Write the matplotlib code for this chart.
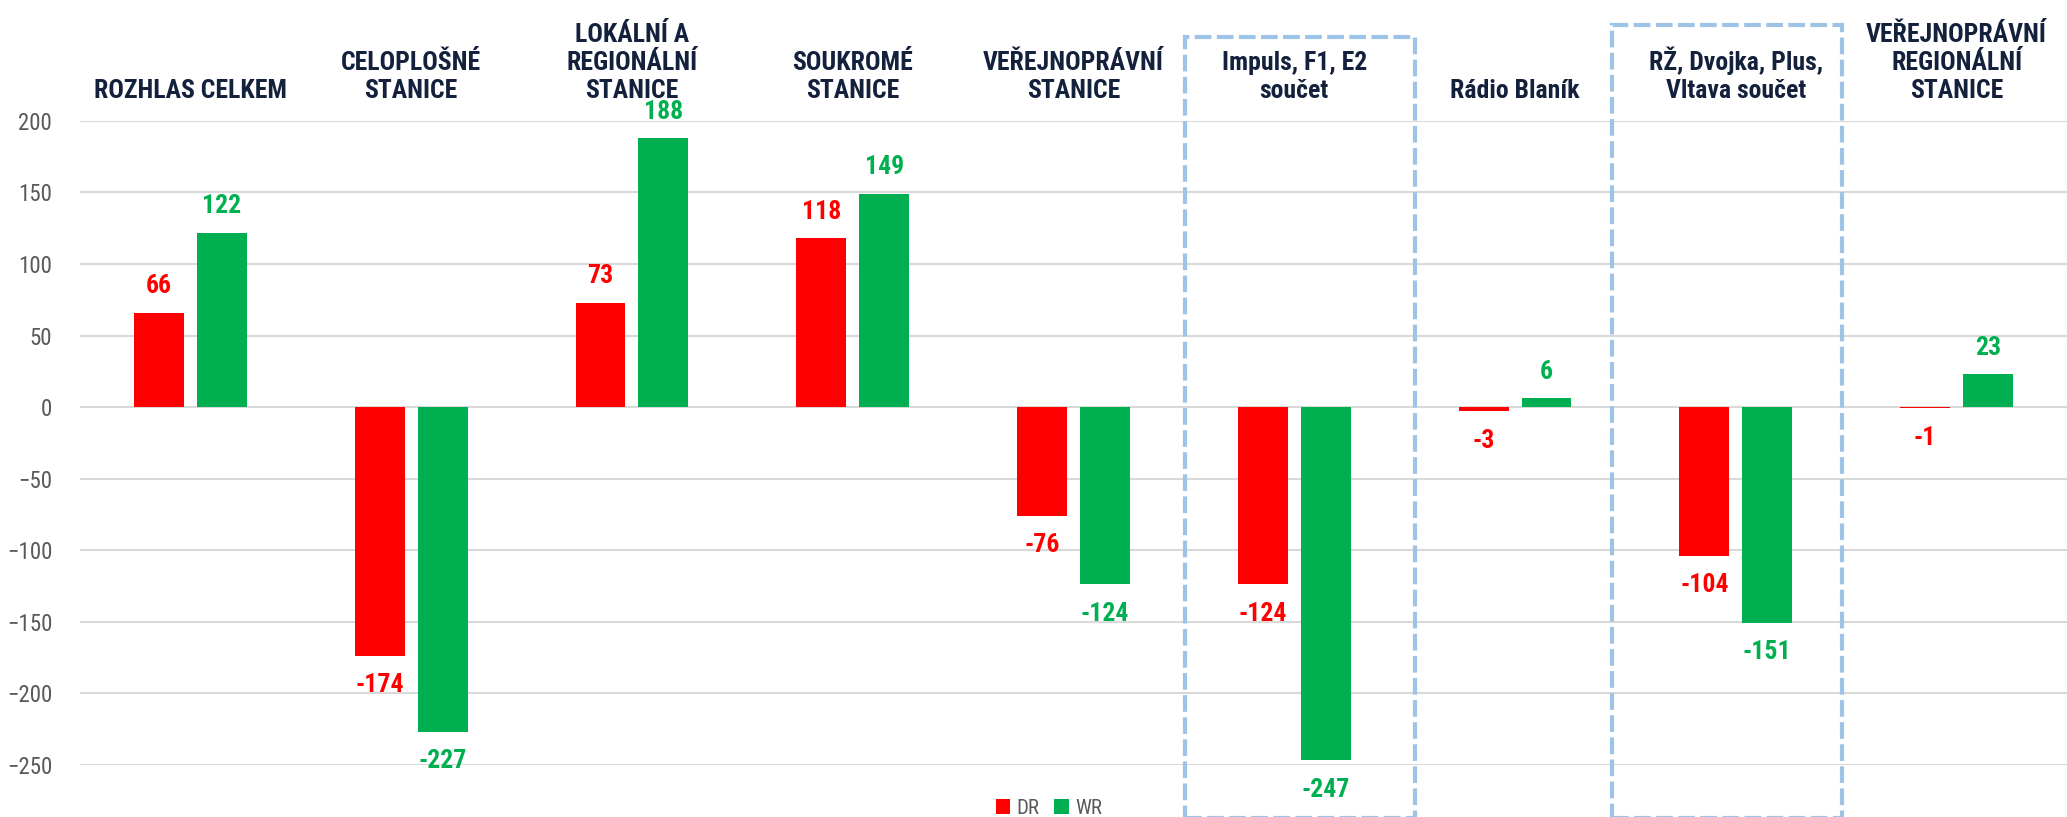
import matplotlib.pyplot as plt
from matplotlib import font_manager
from matplotlib.patches import Rectangle

categories = ['ROZHLAS CELKEM', 'CELOPLOŠNÉ\nSTANICE', 'LOKÁLNÍ A\nREGIONÁLNÍ\nSTANICE',
              'SOUKROMÉ\nSTANICE', 'VEŘEJNOPRÁVNÍ\nSTANICE', 'Impuls, F1, E2\nsoučet',
              'Rádio Blaník', 'RŽ, Dvojka, Plus,\nVltava součet', 'VEŘEJNOPRÁVNÍ\nREGIONÁLNÍ\nSTANICE']
dr_values = [66, -174, 73, 118, -76, -124, -3, -104, -1]
wr_values = [122, -227, 188, 149, -124, -247, 6, -151, 23]
y_ticks = [-250, -200, -150, -100, -50, 0, 50, 100, 150, 200]

RED = '#FF0000'
GREEN = '#00B050'
NAVY = '#14213D'
GREY = '#595959'

installed = {f.name for f in font_manager.fontManager.ttflist}
for fam in ['Liberation Sans Narrow', 'Roboto Condensed', 'Liberation Sans']:
    if fam in installed:
        plt.rcParams['font.family'] = [fam, 'DejaVu Sans']
        break

fig = plt.figure(figsize=(20.67, 8.17), dpi=100)
ax = fig.add_axes([0.0387, 0.064, 0.9613, 0.788])

x = list(range(len(categories)))
w = 0.226
off = 0.1425
ax.bar([i - off for i in x], dr_values, width=w, color=RED, label='DR', zorder=3)
ax.bar([i + off for i in x], wr_values, width=w, color=GREEN, label='WR', zorder=3)

for i in x:
    for val, dx, col in ((dr_values[i], -off, RED), (wr_values[i], off, GREEN)):
        ax.annotate(str(val), (i + dx, val), xytext=(0, 19 if val >= 0 else -21),
                    textcoords='offset points', ha='center', va='center',
                    fontsize=18.5, fontweight='bold', color=col)
    ax.text(i, 216, categories[i], ha='center', va='baseline', fontsize=18.5,
            fontweight='bold', color=NAVY, linespacing=1.2, clip_on=False)

ax.set_xlim(-0.5, len(categories) - 0.5)
ax.set_ylim(-250, 200)
ax.set_yticks(y_ticks)
ax.tick_params(axis='y', length=0, pad=20, labelsize=16.5, labelcolor=GREY)
ax.set_xticks([])
ax.grid(axis='y', color='#D9D9D9', linewidth=1.5, zorder=0)
for s in ax.spines.values():
    s.set_visible(False)

# dashed highlight boxes
for x0, x1, top in ((4.507, 5.545, 259), (6.437, 7.48, 267)):
    ax.add_patch(Rectangle((x0, -287), x1 - x0, top + 287, fill=False,
                           edgecolor='#9DC3E6', linewidth=3, linestyle=(0, (4, 1.3)),
                           clip_on=False, zorder=4))

fig.legend(loc='center', bbox_to_anchor=(1049 / 2067, 0.011), ncol=2, frameon=False,
           fontsize=15, labelcolor=GREY, handlelength=0.7, handleheight=0.7,
           handletextpad=0.3, columnspacing=0.7)

fig.savefig('out.png', dpi=100)
